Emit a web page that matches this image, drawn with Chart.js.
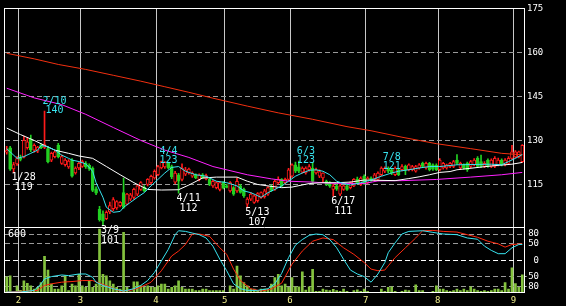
<!DOCTYPE html>
<html>
<head>
<meta charset="utf-8">
<script src="https://cdn.jsdelivr.net/npm/chart.js@4"></script>
<style>
  html, body { margin: 0; padding: 0; background: #000; }
  canvas { display: block; }
</style>
</head>
<body>
<canvas id="stockChart" width="566" height="306"></canvas>
<script>
// trading days shown on the chart
const dates = [
  '1/26','1/27','1/28','1/31',
  '2/1','2/2','2/3','2/4','2/7','2/8','2/9','2/10','2/14','2/15','2/16','2/17','2/18','2/21','2/22','2/23','2/24','2/25',
  '3/1','3/2','3/3','3/4','3/7','3/8','3/9','3/10','3/11','3/14','3/15','3/16','3/17','3/18','3/22','3/23','3/24','3/25','3/28','3/29','3/30','3/31',
  '4/1','4/4','4/5','4/6','4/7','4/8','4/11','4/12','4/13','4/14','4/15','4/18','4/19','4/20','4/21','4/22','4/25','4/26','4/27','4/28',
  '5/2','5/6','5/9','5/10','5/11','5/12','5/13','5/16','5/17','5/18','5/19','5/20','5/23','5/24','5/25','5/26','5/27','5/30','5/31',
  '6/1','6/2','6/3','6/6','6/7','6/8','6/9','6/10','6/13','6/14','6/15','6/16','6/17','6/20','6/21','6/22','6/23','6/24','6/27','6/28','6/29','6/30',
  '7/1','7/4','7/5','7/6','7/7','7/8','7/11','7/12','7/13','7/14','7/15','7/18','7/19','7/20','7/21','7/22','7/25','7/26','7/27','7/28','7/29',
  '8/1','8/2','8/3','8/4','8/5','8/8','8/9','8/10','8/11','8/12','8/16','8/17','8/18','8/19','8/22','8/23','8/24','8/25','8/26','8/29','8/30','8/31',
  '9/1','9/2','9/5'
];

const opens = [
  126.0,127.5,120.3,122.0,124.0,124.3,127.5,130.5,126.7,126.3,
  128.3,127.6,127.2,123.3,124.5,128.3,122.2,121.7,121.0,123.3,
  118.9,120.6,121.1,122.2,121.5,120.5,113.5,106.5,105.0,103.3,
  105.6,106.7,107.0,107.8,112.2,108.3,110.0,110.6,111.7,113.3,
  114.0,115.0,115.6,117.2,118.3,120.6,121.0,122.2,121.1,115.8,
  118.3,116.7,118.5,118.9,117.8,118.3,116.7,118.3,116.9,116.7,
  114.5,113.9,113.3,115.6,114.5,112.8,113.9,112.8,114.5,113.3,
  108.3,110.0,108.9,109.5,110.6,110.8,111.7,114.4,113.3,115.6,
  116.7,115.6,116.7,117.8,121.7,121.0,119.2,118.9,120.0,120.5,
  118.9,117.8,117.2,116.1,115.6,113.3,114.5,111.7,113.3,114.5,
  113.9,114.5,116.7,115.0,117.8,115.6,117.2,116.7,116.7,118.3,
  119.5,120.6,120.0,118.3,120.0,120.0,121.2,120.0,120.0,119.5,
  120.6,122.2,120.6,122.2,121.7,121.5,120.0,120.6,120.6,121.1,
  121.1,123.3,120.6,121.7,122.2,121.1,121.7,123.9,122.8,121.1,
  123.3,121.1,121.1,121.7,123.3,121.7,122.2,123.9,124.4,124.4,
  122.8
];
const highs = [
  128.0,128.0,122.5,124.5,125.0,131.5,131.0,131.8,128.8,128.0,
  128.8,140.0,128.0,126.0,126.6,129.0,125.0,123.8,123.5,123.8,
  121.0,122.6,123.3,122.8,122.0,121.0,114.2,107.5,106.0,106.0,
  109.0,110.5,109.5,109.2,117.2,112.0,112.0,113.8,115.0,116.0,
  114.6,117.0,118.2,120.0,121.5,123.0,122.8,122.6,121.6,119.5,
  118.8,122.0,120.8,120.6,119.3,118.6,118.6,118.7,118.5,117.2,
  116.5,116.0,116.0,116.0,115.0,116.0,114.3,117.2,115.0,113.8,
  110.5,112.2,111.5,112.2,112.5,113.3,114.3,114.8,116.5,117.6,
  117.0,117.2,120.5,122.0,122.6,123.0,121.0,121.0,121.8,122.5,
  120.6,120.0,119.0,116.5,116.0,115.0,115.0,115.0,114.8,114.9,
  116.0,117.0,117.5,117.6,118.3,117.6,117.6,118.8,119.3,121.0,
  121.0,121.0,120.5,121.0,120.4,121.8,121.6,122.0,121.5,121.5,
  122.1,122.6,122.6,122.5,122.0,122.0,123.8,122.5,121.9,122.5,
  123.2,125.2,122.6,122.0,122.6,123.2,123.8,124.5,125.0,122.8,
  123.7,123.7,124.5,124.0,123.7,123.8,124.5,128.3,126.5,126.4,
  128.6
];
const lows = [
  125.3,119.8,119.0,121.5,123.0,124.0,127.0,126.2,126.0,125.8,
  127.2,127.2,122.3,122.8,124.0,124.0,121.8,121.2,120.5,117.5,
  118.5,120.0,120.8,120.5,119.8,112.5,111.5,102.5,101.0,103.0,
  105.0,106.0,106.5,107.3,106.8,108.0,109.5,110.0,111.2,113.0,
  112.5,114.5,115.2,116.8,118.0,120.3,120.5,120.3,117.0,115.3,
  112.0,116.2,118.0,118.5,117.4,117.0,116.2,117.0,116.5,114.6,
  114.0,113.5,112.8,113.5,113.8,112.4,111.3,112.3,112.0,110.6,
  107.0,109.5,108.5,109.0,110.2,110.3,111.3,112.6,113.0,115.2,
  114.2,115.2,116.3,117.4,119.0,119.0,118.8,118.5,119.5,115.5,
  118.5,117.3,115.8,114.6,114.0,111.0,113.0,111.2,113.0,113.0,
  113.5,114.2,115.2,114.6,115.0,115.2,116.0,116.3,116.3,118.0,
  119.0,119.0,118.3,118.0,118.0,119.6,118.3,119.6,119.6,119.2,
  120.2,120.8,120.2,119.6,119.8,119.7,119.6,120.2,120.2,120.7,
  120.7,121.8,120.2,120.2,119.4,120.7,121.3,120.8,120.8,120.7,
  120.8,120.7,120.7,121.3,121.3,121.3,121.8,123.5,124.0,124.0,
  122.4
];
const closes = [
  126.5,120.2,121.8,123.8,123.5,130.0,129.5,126.8,128.3,127.7,
  127.5,128.6,122.8,125.6,126.1,124.5,124.5,123.3,123.0,117.8,
  120.6,122.2,122.8,121.0,120.3,113.0,112.0,103.0,102.5,105.5,
  107.8,109.8,109.2,108.9,107.2,111.7,111.5,113.3,114.5,115.6,
  112.9,116.7,117.8,119.5,121.1,122.8,122.5,120.6,117.6,118.9,
  116.1,120.6,120.0,120.2,118.9,117.2,118.3,117.2,118.0,115.0,
  116.1,115.6,115.6,113.9,114.0,115.6,111.7,116.1,112.3,111.1,
  110.0,111.7,111.1,111.9,112.2,112.8,113.9,113.0,116.1,116.7,
  114.5,116.7,120.0,121.7,119.5,119.5,120.6,120.6,121.1,116.0,
  120.0,119.4,118.9,115.0,114.4,114.4,113.4,114.5,114.5,113.3,
  115.6,116.7,115.6,117.2,115.6,117.2,116.4,118.3,118.9,120.6,
  120.6,119.5,118.9,120.6,118.3,121.1,120.0,121.7,121.1,121.1,
  121.7,121.1,122.2,120.0,120.2,120.0,123.3,122.2,121.7,122.2,
  122.8,122.2,122.2,120.6,120.0,122.8,123.3,121.1,121.1,122.2,
  121.1,123.3,123.9,123.3,121.7,123.3,123.9,126.1,126.1,126.1,
  128.3
];
const volumes = [
  170,180,10,77,30,128,104,77,44,61,
  111,381,239,94,44,44,77,179,27,94,
  77,195,77,61,128,61,94,660,195,179,
  128,94,61,44,627,61,17,118,118,77,
  61,77,61,61,77,94,94,44,61,77,
  128,61,44,44,44,27,27,44,44,27,
  27,27,27,27,10,77,44,280,179,111,
  77,44,44,27,44,44,44,94,162,195,
  77,94,61,162,67,67,222,34,67,246,
  20,20,44,34,27,40,27,20,44,20,
  10,27,37,20,44,20,10,10,10,44,
  20,61,67,20,10,20,34,27,10,88,
  27,27,10,10,20,78,44,44,27,20,
  27,44,27,44,27,67,44,27,20,27,
  20,27,44,44,27,111,44,263,101,61,
  189
];

// moving averages, read at sample days
const maShortDates = ['1/26','1/31','2/2','2/4','2/8','2/9','2/14','2/16','2/18','2/22','2/23','2/25','3/2','3/4','3/7','3/9','3/10','3/14','3/16','3/17','3/22','3/24','3/28','3/30','4/1','4/5','4/7','4/11','4/13','4/18','4/21','4/26','5/2','5/10','5/12','5/16','5/17','5/19','5/23','5/25','5/27','5/31','6/2','6/6','6/8','6/10','6/14','6/16','6/20','6/22','6/24','6/29','7/4','7/7','7/12','7/14','7/19','7/22','7/27','8/1','8/8','8/23','8/26','8/30','9/1','9/5'];
const maShort = [127.2,123.9,124.5,125.6,126.7,128.3,127.8,126.7,125.0,123.9,123.3,122.8,122.0,119.5,115.6,110.6,107.2,105.5,105.8,107.2,108.9,110.6,112.2,114.5,116.7,118.9,120.8,121.1,119.5,118.3,117.8,116.1,115.6,114.5,112.8,112.2,111.7,110.6,112.2,113.3,114.5,116.1,117.8,118.9,119.8,120.0,119.5,118.3,116.1,115.3,114.8,115.6,116.5,117.8,118.9,119.5,120.0,120.6,121.1,121.1,121.7,121.9,121.7,122.8,123.9,125.2];

const maMidDates = ['1/26','2/1','2/7','2/10','2/16','2/22','2/25','3/4','3/10','3/16','3/23','3/29','4/4','4/11','4/14','4/20','4/26','5/10','5/13','5/18','5/23','5/27','6/1','6/8','6/14','6/20','6/24','6/30','7/13','7/19','7/22','7/27','8/1','8/4','8/8','8/23','8/31','9/5'];
const maMid = [134.2,132.0,130.0,128.3,126.7,125.6,124.7,123.9,121.1,118.3,115.6,113.3,113.1,113.2,114.8,117.2,117.5,117.5,116.1,115.0,114.5,113.9,114.1,115.3,115.6,115.6,115.8,116.5,116.3,117.0,117.6,118.3,119.1,119.4,120.0,121.3,121.9,122.5];

const maLongDates = ['1/26','2/7','2/18','3/2','3/14','3/25','4/5','4/14','4/25','5/13','5/24','5/31','6/9','6/16','6/30','7/6','7/15','7/29','8/12','8/26','9/5'];
const maLong = [147.8,144.5,142.2,138.9,134.4,130.0,126.7,124.2,121.1,118.3,116.9,116.1,115.8,115.4,115.3,116.2,116.3,116.7,117.5,118.3,119.1];

const maYearDates = ['1/26','2/7','2/17','3/2','3/14','3/25','4/5','4/14','4/25','5/13','5/26','6/9','6/23','7/4','7/15','7/29','8/12','8/26','9/5'];
const maYear = [159.7,157.8,155.9,154.2,152.2,150.2,148.3,146.4,144.4,141.7,139.4,137.2,134.7,133.3,131.1,128.9,127.2,125.6,125.1];

// stochastics (0-100) in the lower panel
const kDates = ['1/26','2/1','2/7','2/9','2/10','2/15','2/18','2/22','2/25','3/2','3/4','3/7','3/9','3/14','3/17','3/23','3/25','3/29','3/31','4/4','4/6','4/8','4/11','4/13','4/15','4/19','4/21','4/25','4/27','5/2','5/9','5/11','5/13','5/18','5/23','5/25','5/27','5/31','6/2','6/6','6/8','6/10','6/14','6/16','6/20','6/22','6/24','6/28','6/30','7/4','7/6','7/8','7/11','7/13','7/15','7/19','7/25','7/28','8/2','8/8','8/11','8/17','8/19','8/23','8/25','8/29','8/31','9/2','9/5'];
const kValues = [1.5,1.5,4,14,21.5,25,27.5,26.5,29,29,24,16.5,11.5,6.5,3,6.5,11.5,19,31.5,49,66.5,89,95,94,91.5,89,84,71.5,51.5,34,14,6.5,4,4,6.5,14,30,54,73,81.5,88,90,89,81.5,69,51.5,35,29,25,16.5,29,46.5,61.5,76.5,90,94,95,92.5,90,89,84,82,71.5,65,60,60,69,74,74];
const dDates = ['1/26','2/3','2/8','2/10','2/15','2/18','2/23','3/1','3/4','3/8','3/11','3/16','3/22','3/25','3/30','4/4','4/7','4/11','4/13','4/15','4/19','4/22','4/27','5/2','5/9','5/11','5/16','5/19','5/24','5/27','6/1','6/6','6/9','6/14','6/17','6/22','6/27','6/30','7/4','7/6','7/8','7/11','7/13','7/18','7/21','7/25','7/28','8/2','8/8','8/11','8/17','8/22','8/25','8/29','8/31','9/5'];
const dValues = [1.5,3,4,11.5,14,16.5,17.5,19,19,15,9,3,4,9,16.5,34,56.5,64,74,90,90,86.5,69,59,36.5,19,6.5,3,6,15,44,64,79,84,81.5,69,59,46.5,36.5,34,35,41.5,54,69,84,95,95.5,94,93,89,85,79,75,70,74,75];

// high / low marks
const markDates = ['1/28','2/10','3/9','4/4','4/11','5/13','6/3','6/17','7/8'];
const markPrices = [119,140,101,123,112,107,123,111,121];
const markKinds = ['low','high','low','high','low','low','high','low','high'];

const priceTicks = [115,130,145,160,175];
const oscTicks = [-80,-50,0,50,80];
const volTicks = [600];

const RED = '#ff1a1a';
const GREEN = '#22d022';
const CYAN = '#38e4f0';
const GRID = '#9a9a9a';

const isUp = closes.map((c, i) => c >= opens[i]);
const pts = (ds, vs) => ds.map((d, i) => ({ x: d, y: vs[i] }));
const monthOf = d => d.split('/')[0];
const isMonthStart = i => i > 0 && i < dates.length && monthOf(dates[i]) !== monthOf(dates[i - 1]);

const framePlugin = {
  id: 'frame',
  afterDatasetsDraw(chart) {
    const { ctx, chartArea: a } = chart;
    const sep = Math.round(chart.scales.yStoch.getPixelForValue(100)) + 0.5;
    ctx.save();
    ctx.strokeStyle = '#ffffff';
    ctx.lineWidth = 1;
    ctx.strokeRect(Math.round(a.left) - 0.5, Math.round(a.top) + 0.5,
      Math.round(a.right - a.left) + 1, Math.round(a.bottom - a.top) - 1);
    ctx.beginPath();
    ctx.moveTo(a.left, sep);
    ctx.lineTo(a.right, sep);
    ctx.stroke();
    ctx.restore();
  }
};

const markPlugin = {
  id: 'marks',
  afterDatasetsDraw(chart) {
    const { ctx } = chart;
    const x = chart.scales.x, y = chart.scales.y;
    ctx.save();
    ctx.font = '10px "DejaVu Sans Mono"';
    ctx.textAlign = 'center';
    ctx.textBaseline = 'alphabetic';
    markDates.forEach((d, k) => {
      const px = x.getPixelForValue(dates.indexOf(d));
      const py = y.getPixelForValue(markPrices[k]);
      const cx = px - 2 + ctx.measureText(d).width / 2;
      if (markKinds[k] === 'high') {
        ctx.fillStyle = CYAN;
        ctx.fillText(d, cx, py - 7);
        ctx.fillText(String(markPrices[k]), cx, py + 2);
      } else {
        ctx.fillStyle = '#ffffff';
        ctx.fillText(d, cx, py + 7.5);
        ctx.fillText(String(markPrices[k]), cx, py + 17.5);
      }
    });
    ctx.restore();
  }
};

Chart.defaults.font.family = '"DejaVu Sans Mono", monospace';
Chart.defaults.font.size = 9;
Chart.defaults.color = '#ffffff';

new Chart(document.getElementById('stockChart'), {
  type: 'bar',
  data: {
    labels: dates,
    datasets: [
      {
        type: 'line', data: pts(maShortDates, maShort), borderColor: CYAN,
        borderWidth: 1, pointRadius: 0, tension: 0, yAxisID: 'y', order: 1
      },
      {
        type: 'line', data: pts(maMidDates, maMid), borderColor: '#ffffff',
        borderWidth: 1, pointRadius: 0, tension: 0, yAxisID: 'y', order: 1
      },
      {
        type: 'line', data: pts(maLongDates, maLong), borderColor: '#ff22ff',
        borderWidth: 1, pointRadius: 0, tension: 0, yAxisID: 'y', order: 1
      },
      {
        type: 'line', data: pts(maYearDates, maYear), borderColor: '#f23010',
        borderWidth: 1, pointRadius: 0, tension: 0, yAxisID: 'y', order: 1
      },
      {
        // candle bodies: hollow red for up days, solid green for down days
        data: opens.map((o, i) => [Math.min(o, closes[i]), Math.max(o, closes[i])]),
        backgroundColor: isUp.map(u => (u ? '#000000' : GREEN)),
        borderColor: isUp.map(u => (u ? RED : GREEN)),
        borderWidth: 1, borderSkipped: false, barThickness: 3, minBarLength: 1,
        grouped: false, yAxisID: 'y', order: 2
      },
      {
        // wicks
        data: lows.map((l, i) => [l, highs[i]]),
        backgroundColor: isUp.map(u => (u ? RED : GREEN)),
        barThickness: 1, grouped: false, yAxisID: 'y', order: 3
      },
      {
        type: 'line', data: pts(kDates, kValues), borderColor: CYAN,
        borderWidth: 1, pointRadius: 0, tension: 0, yAxisID: 'yStoch', order: 4
      },
      {
        type: 'line', data: pts(dDates, dValues), borderColor: '#ff2a10',
        borderWidth: 1, pointRadius: 0, tension: 0, yAxisID: 'yStoch', order: 4
      },
      {
        data: volumes, backgroundColor: '#84c23e',
        barPercentage: 0.78, categoryPercentage: 1, grouped: false,
        yAxisID: 'yVol', order: 6
      }
    ]
  },
  options: {
    responsive: false,
    animation: false,
    devicePixelRatio: 1,
    layout: { padding: { left: 0, top: 2, right: 0, bottom: 0 } },
    plugins: { legend: { display: false }, tooltip: { enabled: false } },
    scales: {
      x: {
        offset: true,
        grid: {
          offset: true,
          drawTicks: false,
          color: ctx => (isMonthStart(ctx.index) ? '#c8c8c8' : 'rgba(0,0,0,0)')
        },
        border: { display: false },
        ticks: {
          autoSkip: false, maxRotation: 0, minRotation: 0, padding: 2,
          labelOffset: -2, color: '#f2f08c',
          callback: (v, i) => (isMonthStart(i) ? monthOf(dates[i]) : '')
        },
        afterFit: s => { s.height = 13; }
      },
      y: {
        position: 'right', weight: 1, min: 78, max: 175,
        afterBuildTicks: s => { s.ticks = priceTicks.map(v => ({ value: v })); },
        afterFit: s => { s.width = 42; },
        ticks: { autoSkip: false, padding: 3, color: '#ffffff' },
        grid: {
          drawTicks: false,
          color: ctx => (ctx.tick && ctx.tick.value === 175 ? 'rgba(0,0,0,0)' : GRID)
        },
        border: { display: false, dash: [5, 3] }
      },
      yOsc: {
        position: 'right', weight: 0, min: -100, max: 768.7,
        afterBuildTicks: s => { s.ticks = oscTicks.map(v => ({ value: v })); },
        afterFit: s => { s.width = 0; s.paddingTop = 0; s.paddingBottom = 0; },
        ticks: { autoSkip: false, mirror: true, crossAlign: 'near', padding: 15, color: '#ffffff' },
        grid: {
          drawTicks: false,
          color: ctx => (ctx.tick && ctx.tick.value === 0 ? '#ffffff' : GRID)
        },
        border: { display: false, dash: [5, 3] }
      },
      yVol: {
        position: 'left', min: 0, max: 2925,
        afterBuildTicks: s => { s.ticks = volTicks.map(v => ({ value: v })); },
        afterFit: s => { s.width = 5; s.paddingTop = 0; s.paddingBottom = 0; },
        ticks: { mirror: true, padding: 3, color: '#ffffff', font: { size: 10 } },
        grid: { drawOnChartArea: false, drawTicks: false },
        border: { display: false }
      },
      yStoch: {
        display: false, min: 0, max: 434.3
      }
    }
  },
  plugins: [framePlugin, markPlugin]
});
</script>
</body>
</html>
